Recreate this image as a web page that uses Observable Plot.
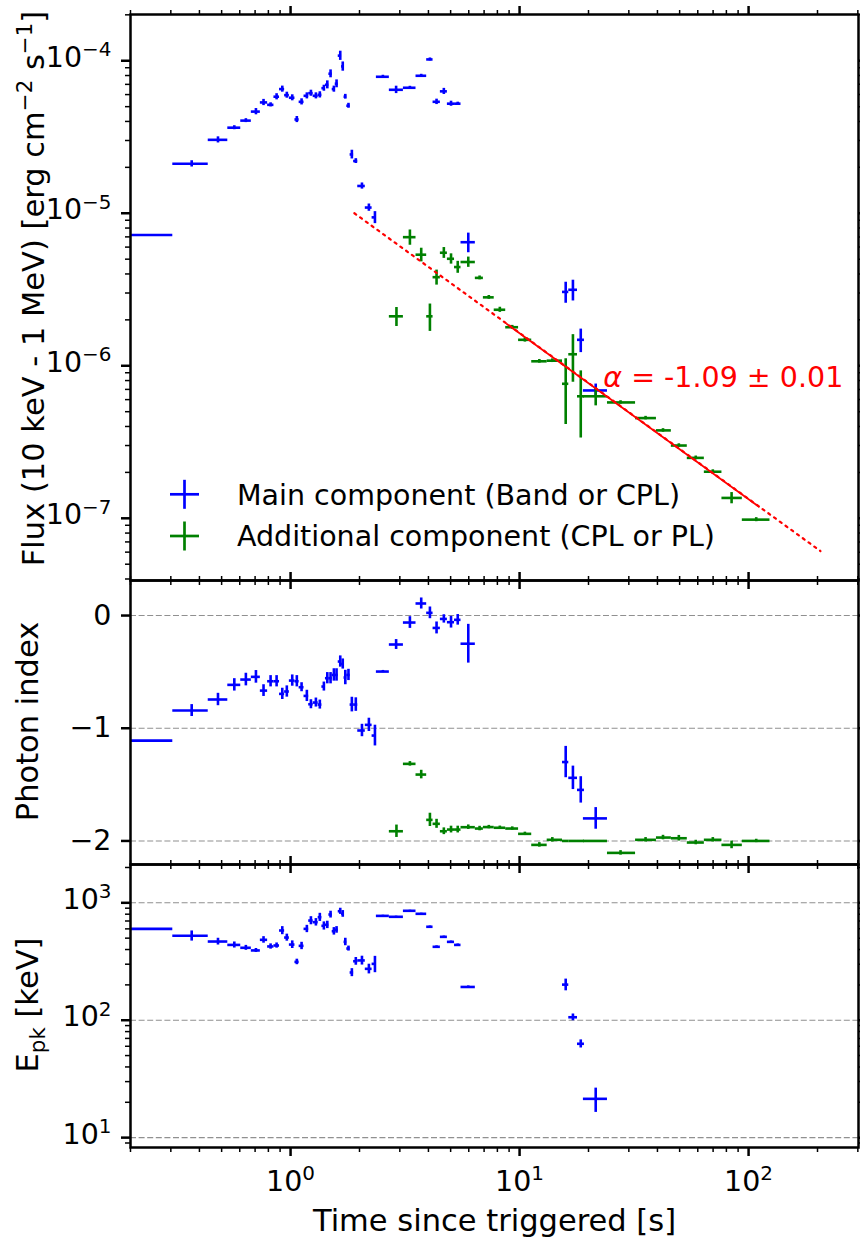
<!DOCTYPE html>
<html>
<head>
<meta charset="utf-8">
<script src="https://cdn.jsdelivr.net/npm/d3@7"></script>
<script src="https://cdn.jsdelivr.net/npm/@observablehq/plot@0.6"></script>
<style>
html,body{margin:0;padding:0;background:#fff;}
#wrap{position:relative;width:860px;height:1237px;overflow:hidden;background:#fff;font-family:"DejaVu Sans";}
#wrap svg{position:absolute;left:0;}
</style>
</head>
<body>
<div id="wrap"></div>
<script>
// ================= DATA =================
// Main component (blue): time bins [s]
const mainT   = [0.15, 0.37, 0.482, 0.568, 0.638, 0.706, 0.762, 0.818, 0.869, 0.92, 0.963, 1.017, 1.065, 1.117, 1.178, 1.227, 1.29, 1.342, 1.398, 1.447, 1.495, 1.546, 1.588, 1.648, 1.69, 1.734, 1.79, 1.852, 1.927, 2.05, 2.198, 2.336, 2.53, 2.89, 3.32, 3.72, 4.06, 4.34, 4.67, 5.02, 5.37, 5.97, 15.9, 17.1, 18.5, 21.5];
const mainTLo = [0.1, 0.306, 0.437, 0.532, 0.606, 0.674, 0.738, 0.794, 0.846, 0.895, 0.942, 0.988, 1.045, 1.09, 1.145, 1.2, 1.255, 1.32, 1.37, 1.42, 1.47, 1.52, 1.567, 1.615, 1.67, 1.712, 1.76, 1.82, 1.885, 1.965, 2.12, 2.27, 2.37, 2.70, 3.11, 3.53, 3.93, 4.19, 4.51, 4.84, 5.2, 5.55, 15.4, 16.4, 17.9, 19.0];
const mainTHi = [0.306, 0.437, 0.532, 0.606, 0.674, 0.738, 0.794, 0.846, 0.895, 0.942, 0.988, 1.045, 1.09, 1.145, 1.2, 1.255, 1.32, 1.37, 1.42, 1.47, 1.52, 1.567, 1.615, 1.67, 1.712, 1.76, 1.82, 1.885, 1.965, 2.12, 2.27, 2.37, 2.70, 3.11, 3.53, 3.93, 4.19, 4.51, 4.84, 5.2, 5.55, 6.41, 16.4, 17.9, 19.2, 24.2];
// flux [erg cm^-2 s^-1]
const mainFlux    = [7.2e-6, 2.11e-5, 3.03e-5, 3.64e-5, 4.05e-5, 4.64e-5, 5.33e-5, 5.14e-5, 5.81e-5, 6.52e-5, 5.95e-5, 5.72e-5, 4.12e-5, 5.38e-5, 5.89e-5, 6.13e-5, 5.89e-5, 5.98e-5, 6.61e-5, 6.96e-5, 8.22e-5, 6.52e-5, 7.07e-5, 1.08e-4, 9.18e-5, 5.81e-5, 5.07e-5, 2.43e-5, 2.2e-5, 1.51e-5, 1.09e-5, 9.4e-6, 7.85e-5, 6.45e-5, 6.65e-5, 7.97e-5, 1.02e-4, 5.38e-5, 6.3e-5, 5.23e-5, 5.23e-5, 6.46e-6, 3.05e-6, 3.15e-6, 1.48e-6, 6.89e-7];
const mainFluxErr = [0, 1.0e-6, 1.4e-6, 1.1e-6, 1.2e-6, 2.2e-6, 2.5e-6, 1.6e-6, 2.7e-6, 3.0e-6, 2.7e-6, 2.6e-6, 1.9e-6, 2.5e-6, 2.7e-6, 2.8e-6, 2.7e-6, 2.8e-6, 3.0e-6, 4.2e-6, 4.9e-6, 3.0e-6, 4.2e-6, 7.5e-6, 6.4e-6, 2.1e-6, 1.9e-6, 1.6e-6, 8e-7, 7e-7, 6e-7, 8.5e-7, 1.8e-6, 3.6e-6, 1.5e-6, 1.8e-6, 2.3e-6, 2.2e-6, 2.9e-6, 2.0e-6, 1.2e-6, 9.5e-7, 4.8e-7, 4.9e-7, 2.6e-7, 7e-8];
// photon index
const mainIndex    = [-1.11, -0.843, -0.745, -0.615, -0.568, -0.544, -0.666, -0.583, -0.583, -0.695, -0.674, -0.577, -0.583, -0.636, -0.713, -0.787, -0.772, -0.79, -0.63, -0.556, -0.556, -0.527, -0.527, -0.408, -0.43, -0.55, -0.527, -0.79, -0.79, -1.02, -0.97, -1.065, -0.497, -0.257, -0.062, 0.107, 0.024, -0.11, -0.03, -0.059, -0.038, -0.25, -1.30, -1.44, -1.547, -1.80];
const mainIndexErr = [0, 0.053, 0.055, 0.055, 0.056, 0.056, 0.052, 0.05, 0.05, 0.05, 0.05, 0.05, 0.05, 0.04, 0.05, 0.04, 0.04, 0.04, 0.04, 0.05, 0.05, 0.055, 0.055, 0.05, 0.045, 0.064, 0.05, 0.065, 0.06, 0.055, 0.059, 0.092, 0.01, 0.044, 0.052, 0.049, 0.052, 0.053, 0.037, 0.052, 0.047, 0.172, 0.139, 0.104, 0.117, 0.096];
// peak energy [keV]
const mainEpk    = [600, 524, 468, 438, 414, 393, 484, 425, 433, 581, 506, 441, 314, 430, 600, 706, 684, 754, 637, 650, 795, 573, 589, 848, 806, 465, 408, 255, 318, 323, 274, 302, 774, 760, 855, 806, 625, 422, 513, 465, 438, 192, 201, 106, 63, 21.4];
const mainEpkErr = [0, 52, 31, 26, 20, 15, 31, 22, 22, 46, 35, 33, 17, 31, 43, 56, 50, 60, 51, 47, 53, 42, 38, 51, 53, 34, 20, 20, 24, 28, 26, 48, 10, 10, 10, 10, 10, 8, 8, 8, 8, 4, 23, 7, 5, 5];

// Additional component (green)
const addT   = [2.9, 3.32, 3.72, 4.06, 4.34, 4.67, 5.02, 5.37, 5.97, 6.69, 7.34, 8.2, 9.29, 10.55, 12.2, 13.9, 15.9, 17.1, 18.5, 21.5, 27.6, 35.5, 42.3, 49.6, 58.8, 69.8, 84.3, 108];
const addTLo = [2.70, 3.11, 3.53, 3.93, 4.19, 4.51, 4.84, 5.2, 5.55, 6.41, 6.95, 7.75, 8.7, 9.9, 11.3, 13.2, 15.4, 16.4, 17.9, 19.0, 24.2, 32.1, 39.6, 46.0, 54.0, 64.1, 76.5, 93.9];
const addTHi = [3.11, 3.53, 3.93, 4.19, 4.51, 4.84, 5.2, 5.55, 6.41, 6.95, 7.75, 8.7, 9.9, 11.3, 13.2, 15.4, 16.4, 17.9, 19.2, 24.2, 32.1, 39.6, 46.0, 54.0, 64.1, 76.5, 93.9, 124];
const addFlux    = [2.11e-6, 6.97e-6, 5.35e-6, 2.11e-6, 3.81e-6, 5.51e-6, 5.03e-6, 4.44e-6, 4.79e-6, 3.77e-6, 2.81e-6, 2.33e-6, 1.79e-6, 1.48e-6, 1.07e-6, 1.08e-6, 7.62e-7, 1.19e-6, 6.31e-7, 6.31e-7, 5.75e-7, 4.54e-7, 3.77e-7, 3.0e-7, 2.49e-7, 2.02e-7, 1.36e-7, 9.8e-8];
const addFluxErr = [3.0e-7, 8e-7, 5.5e-7, 4.3e-7, 4.3e-7, 4.5e-7, 3.9e-7, 4.0e-7, 3.7e-7, 1.1e-7, 8e-8, 9e-8, 5e-8, 5e-8, 3e-8, 3e-8, 3.5e-7, 4.1e-7, 2.95e-7, 8.5e-8, 1.5e-8, 1.2e-8, 1.0e-8, 8e-9, 7e-9, 6e-9, 1.15e-8, 3e-9];
const addIndex    = [-1.914, -1.316, -1.411, -1.813, -1.848, -1.914, -1.899, -1.899, -1.878, -1.89, -1.877, -1.883, -1.89, -1.937, -2.035, -1.99, -2.0, -2.0, -2.0, -2.0, -2.106, -1.99, -1.97, -1.976, -2.014, -1.99, -2.035, -2.0];
const addIndexErr = [0.055, 0.02, 0.038, 0.059, 0.04, 0.03, 0.03, 0.03, 0.02, 0.02, 0.015, 0.015, 0.015, 0.015, 0.02, 0.02, 0, 0, 0, 0, 0.02, 0.02, 0.02, 0.025, 0.02, 0.02, 0.034, 0.015];

// Power-law fit (alpha = -1.09): dotted extent and solid fitted range
const fitT = [1.9, 206];
const fitF = [1.0e-5, 6.1e-8];
const fitSolidT = [8.8, 111];
const fitSolidF = [1.88e-6, 1.19e-7];
const fitLabel = "~{α} = -1.09 ± 0.01";
const fitLabelT = 23.2, fitLabelF = 7.3e-7;

// Ticks and labels
const xTicks = [1, 10, 100];
const fluxTicks = [1e-7, 1e-6, 1e-5, 1e-4];
const indexTicks = [-2, -1, 0];
const epkTicks = [10, 100, 1000];
const legendLabels = ["Main component (Band or CPL)", "Additional component (CPL or PL)"];
const fluxLabel = "Flux (10 keV - 1 MeV) [erg cm^{−2} s^{−1}]";
const indexLabel = "Photon index";
const epkLabel = "E_{pk} [keV]";
const xLabel = "Time since triggered [s]";

// Axis extents
const xDomain = [0.2, 302];
const fluxDomain = [3.91e-8, 2.01e-4];
const indexDomain = [-2.209, 0.311];
const epkDomain = [8.24, 2120];

// ================= RENDERING =================
const SVGNS = "http://www.w3.org/2000/svg";
const W = 860, ML = 130, MR = 2;
const FS_TICK = 28.5, FS_LABEL = 30.5, FS_LEG = 28.5;
const BLUE = "#0000ff", GREEN = "#008000", RED = "#ff0000", GRID = "#909090";
const EW = 2.6;
const STYLE = "background: transparent; font-family: 'DejaVu Sans'; overflow: visible; color: black;";

const minus = v => v < 0 ? "\u2212" + (-v) : String(v);
const pow10 = d => "10^{" + minus(Math.round(Math.log10(d))) + "}";
const blank = () => "";

function minorLog([lo, hi]) {
  const out = [];
  for (let k = Math.floor(Math.log10(lo)); k <= Math.ceil(Math.log10(hi)); k++)
    for (let m = 2; m <= 9; m++) {
      const v = m * Math.pow(10, k);
      if (v >= lo && v <= hi) out.push(v);
    }
  return out;
}
const xMinor = minorLog(xDomain);

function axes({xLabels, yTicks, yMinor, yFormat, yDy}) {
  const m = [];
  for (const anchor of ["top", "bottom"]) {
    m.push(Plot.axisX({anchor, ticks: xMinor, tickSize: 5, strokeWidth: 1.5, tickFormat: blank, label: null}));
    m.push(Plot.axisX({anchor, ticks: xTicks, tickSize: 9, strokeWidth: 2.5, tickFormat: blank, label: null}));
  }
  if (xLabels) m.push(Plot.axisX({anchor: "bottom", ticks: xTicks, tickSize: 0, tickPadding: 22.8, fontSize: FS_TICK, tickFormat: pow10, label: null}));
  for (const anchor of ["left", "right"]) {
    if (yMinor.length) m.push(Plot.axisY({anchor, ticks: yMinor, tickSize: 5, strokeWidth: 1.5, tickFormat: blank, label: null}));
    m.push(Plot.axisY({anchor, ticks: yTicks, tickSize: 9, strokeWidth: 2.5, tickFormat: blank, label: null}));
  }
  m.push(Plot.axisY({anchor: "left", ticks: yTicks, tickSize: 0, tickPadding: 19, dy: yDy, fontSize: FS_TICK, tickFormat: yFormat, label: null}));
  return m;
}

function errMarks(T, lo, hi, V, E, color) {
  const rows = T.map((t, i) => ({t, lo: lo[i], hi: hi[i], v: V[i], e: E[i]}));
  return [
    Plot.ruleY(rows, {y: "v", x1: "lo", x2: "hi", stroke: color, strokeWidth: EW, clip: true}),
    Plot.ruleX(rows.filter(d => d.e > 0), {x: "t", y1: d => d.v - d.e, y2: d => d.v + d.e, stroke: color, strokeWidth: EW, clip: true})
  ];
}

function yLabel(text, dx, dy) {
  return Plot.text([text], {text: d => d, frameAnchor: "left", textAnchor: "middle", rotate: -90, dx, dy, lineAnchor: "bottom", fontSize: FS_LABEL});
}

// --- top panel: flux
const topPlot = Plot.plot({
  width: W, height: 600, marginTop: 14, marginBottom: 20, marginLeft: ML, marginRight: MR,
  style: STYLE,
  x: {type: "log", domain: xDomain, axis: null},
  y: {type: "log", domain: fluxDomain, axis: null},
  marks: [
    ...errMarks(mainT, mainTLo, mainTHi, mainFlux, mainFluxErr, BLUE),
    ...errMarks(addT, addTLo, addTHi, addFlux, addFluxErr, GREEN),
    Plot.line(fitT.map((t, i) => ({t, f: fitF[i]})), {x: "t", y: "f", stroke: RED, strokeWidth: 2.2, strokeDasharray: "2.2,4.9"}),
    Plot.line(fitSolidT.map((t, i) => ({t, f: fitSolidF[i]})), {x: "t", y: "f", stroke: RED, strokeWidth: 1.8}),
    Plot.text([{t: fitLabelT, f: fitLabelF, s: fitLabel}], {x: "t", y: "f", text: "s", textAnchor: "start", lineAnchor: "bottom", fill: RED, fontSize: FS_LEG}),
    ...axes({xLabels: false, yTicks: fluxTicks, yMinor: minorLog(fluxDomain), yFormat: pow10, yDy: -3}),
    yLabel(fluxLabel, 43 - ML, -9),
    Plot.frame({stroke: "black", strokeWidth: 2.5})
  ]
});

// --- middle panel: photon index
const midPlot = Plot.plot({
  width: W, height: 324, marginTop: 20, marginBottom: 20, marginLeft: ML, marginRight: MR,
  style: STYLE,
  x: {type: "log", domain: xDomain, axis: null},
  y: {type: "linear", domain: indexDomain, axis: null},
  marks: [
    Plot.ruleY(indexTicks, {stroke: GRID, strokeWidth: 1.1, strokeDasharray: "6,2.6"}),
    ...errMarks(mainT, mainTLo, mainTHi, mainIndex, mainIndexErr, BLUE),
    ...errMarks(addT, addTLo, addTHi, addIndex, addIndexErr, GREEN),
    ...axes({xLabels: false, yTicks: indexTicks, yMinor: [], yFormat: minus, yDy: 0}),
    yLabel(indexLabel, 37.5 - ML, -1),
    Plot.frame({stroke: "black", strokeWidth: 2.5})
  ]
});

// --- bottom panel: Epk
const botPlot = Plot.plot({
  width: W, height: 393, marginTop: 20, marginBottom: 90, marginLeft: ML, marginRight: MR,
  style: STYLE,
  x: {type: "log", domain: xDomain, axis: null},
  y: {type: "log", domain: epkDomain, axis: null},
  marks: [
    Plot.ruleY(epkTicks, {stroke: GRID, strokeWidth: 1.1, strokeDasharray: "6,2.6"}),
    ...errMarks(mainT, mainTLo, mainTHi, mainEpk, mainEpkErr, BLUE),
    ...axes({xLabels: true, yTicks: epkTicks, yMinor: minorLog(epkDomain), yFormat: pow10, yDy: -3}),
    yLabel(epkLabel, 37.5 - ML, -1),
    Plot.text([xLabel], {text: d => d, frameAnchor: "bottom", textAnchor: "middle", dy: 83, lineAnchor: "bottom", fontSize: FS_LABEL}),
    Plot.frame({stroke: "black", strokeWidth: 2.5})
  ]
});

const wrap = document.getElementById("wrap");
topPlot.style.top = "0px";
midPlot.style.top = "560px";
botPlot.style.top = "844px";
wrap.appendChild(botPlot);
wrap.appendChild(midPlot);
wrap.appendChild(topPlot);

// --- legend (inside top panel, no frame)
const leg = document.createElementNS(SVGNS, "svg");
leg.setAttribute("width", 860);
leg.setAttribute("height", 600);
leg.style.top = "0px";
leg.style.fontFamily = "'DejaVu Sans'";
[[legendLabels[0], BLUE, 494.3, 505], [legendLabels[1], GREEN, 536, 545.7]].forEach(([label, color, cy, base]) => {
  const h = document.createElementNS(SVGNS, "line");
  h.setAttribute("x1", 170); h.setAttribute("x2", 199); h.setAttribute("y1", cy); h.setAttribute("y2", cy);
  h.setAttribute("stroke", color); h.setAttribute("stroke-width", 2.7);
  const v = document.createElementNS(SVGNS, "line");
  v.setAttribute("x1", 184.5); v.setAttribute("x2", 184.5); v.setAttribute("y1", cy - 14.5); v.setAttribute("y2", cy + 14.5);
  v.setAttribute("stroke", color); v.setAttribute("stroke-width", 2.7);
  const t = document.createElementNS(SVGNS, "text");
  t.setAttribute("x", 237); t.setAttribute("y", base); t.setAttribute("font-size", FS_LEG);
  t.setAttribute("fill", "black");
  t.textContent = label;
  leg.appendChild(h); leg.appendChild(v); leg.appendChild(t);
});
wrap.appendChild(leg);

// --- rich text: ^{sup}, _{sub}, ~{italic}
function richify(root) {
  root.querySelectorAll("text").forEach(el => {
    const s = el.textContent;
    if (!/[\^_~]\{/.test(s)) return;
    const fs = parseFloat(getComputedStyle(el).fontSize) || FS_TICK;
    const parts = s.split(/([\^_~]\{[^}]*\})/).filter(p => p !== "");
    el.textContent = "";
    let shift = 0;
    for (const p of parts) {
      const m = p.match(/^([\^_~])\{([^}]*)\}$/);
      const ts = document.createElementNS(SVGNS, "tspan");
      let target = 0;
      if (m) {
        ts.textContent = m[2];
        if (m[1] === "^") { target = -0.38 * fs; ts.setAttribute("font-size", 0.7 * fs); }
        else if (m[1] === "_") { target = 0.22 * fs; ts.setAttribute("font-size", 0.7 * fs); }
        else { ts.setAttribute("font-style", "italic"); }
      } else {
        ts.textContent = p;
      }
      const dy = target - shift;
      if (dy) ts.setAttribute("dy", dy.toFixed(2));
      shift = target;
      el.appendChild(ts);
    }
  });
}
richify(wrap);
</script>
</body>
</html>
